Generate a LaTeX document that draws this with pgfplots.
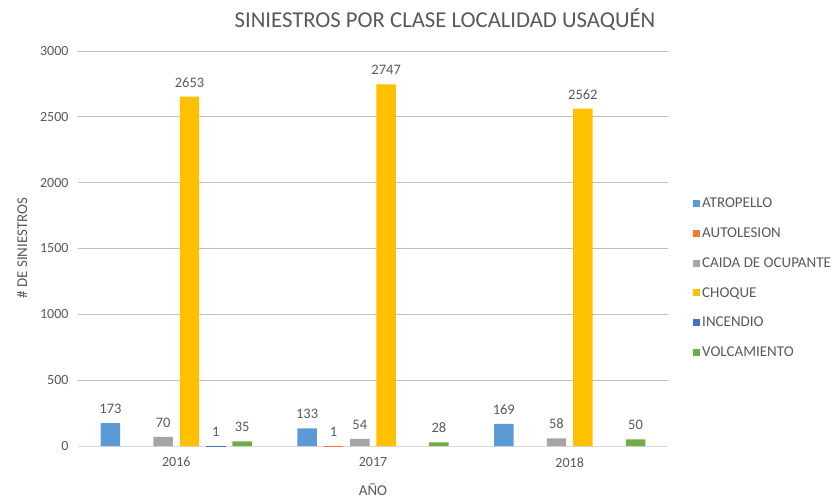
\documentclass[border=0pt]{standalone}
\usepackage{fontspec}
\setmainfont{Carlito}
\usepackage{pgfplots}
\pgfplotsset{compat=1.18}
\definecolor{cA}{HTML}{5B9BD5}
\definecolor{cB}{HTML}{ED7D31}
\definecolor{cC}{HTML}{A5A5A5}
\definecolor{cD}{HTML}{FFC000}
\definecolor{cE}{HTML}{4472C4}
\definecolor{cF}{HTML}{70AD47}
\definecolor{txt}{HTML}{595959}
\definecolor{grid}{HTML}{D9D9D9}
\begin{document}
\begin{tikzpicture}[x=1pt,y=1pt]
\path (0,0) rectangle (837,501);
\node[text=txt, font=\fontsize{22.7}{26}\selectfont] at (445,481) {SINIESTROS POR CLASE LOCALIDAD USAQUÉN};
\node[text=txt, font=\fontsize{15}{17}\selectfont, rotate=90] at (22,253) {\# DE SINIESTROS};
\node[text=txt, font=\fontsize{15}{17}\selectfont] at (373,11) {AÑO};
\begin{axis}[
  at={(78pt,55pt)}, anchor=south west, scale only axis,
  width=590pt, height=395pt,
  xmin=-0.5, xmax=2.5, ymin=0, ymax=3000,
  ytick={0,500,...,3000},
  xtick={0,1,2}, xticklabels={2016,2017,2018},
  /pgf/number format/assume math mode=true,
  /pgf/number format/1000 sep={},
  ymajorgrids, xmajorgrids=false, grid style={grid, line width=0.8pt},
  axis line style={draw=none},
  axis x line*=bottom,
  x axis line style={draw=grid, line width=0.8pt},
  major tick length=0pt, tick style={draw=none},
  tick label style={text=txt, font=\fontsize{14}{16}\selectfont},
  yticklabel style={xshift=-6pt},
  xticklabel style={yshift=-8pt},
  ybar, bar width=0.099,
  every axis plot/.append style={draw=none},
  nodes near coords,
  nodes near coords style={text=txt, font=\fontsize{14.5}{16}\selectfont, yshift=6pt},
  legend style={at={(1.0424,0.633)}, anchor=north west, draw=none, fill=none,
    font=\fontsize{15}{17}\selectfont, text=txt, row sep=14.5pt,
    cells={anchor=west}, inner sep=0pt},
  legend cell align=left,
  legend image code/.code={\fill[#1] (0pt,-3.5pt) rectangle (7pt,3.5pt);},
]
\addplot[fill=cA, bar shift=-0.335] coordinates {(0,173) (1,133) (2,169)};
\addplot[fill=cB, bar shift=-0.201] coordinates {(1,1)};
\addplot[fill=cC, bar shift=-0.067] coordinates {(0,70) (1,54) (2,58)};
\addplot[fill=cD, bar shift=0.067] coordinates {(0,2653) (1,2747) (2,2562)};
\addplot[fill=cE, bar shift=0.201] coordinates {(0,1)};
\addplot[fill=cF, bar shift=0.335] coordinates {(0,35) (1,28) (2,50)};
\legend{ATROPELLO,AUTOLESION,CAIDA DE OCUPANTE,CHOQUE,INCENDIO,VOLCAMIENTO}
\end{axis}
\end{tikzpicture}
\end{document}
